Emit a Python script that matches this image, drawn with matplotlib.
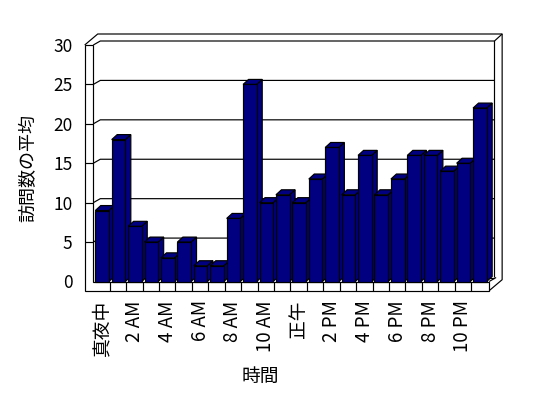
import matplotlib
matplotlib.use("Agg")
import matplotlib.pyplot as plt
from matplotlib.patches import Polygon

plt.rcParams['font.family'] = ['Noto Sans CJK JP', 'DejaVu Sans']

# ---- data ----
hours = ['真夜中', '1 AM', '2 AM', '3 AM', '4 AM', '5 AM', '6 AM', '7 AM', '8 AM', '9 AM',
         '10 AM', '11 AM', '正午', '1 PM', '2 PM', '3 PM', '4 PM', '5 PM', '6 PM', '7 PM',
         '8 PM', '9 PM', '10 PM', '11 PM']
visits = [9, 18, 7, 5, 3, 5, 2, 2, 8, 25, 10, 11, 10, 13, 17, 11, 16, 11, 13, 16, 16, 14, 15, 22]
yticks = [0, 5, 10, 15, 20, 25, 30]
xlabel = '時間'
ylabel = '訪問数の平均'

W, H = 548, 398
fig = plt.figure(figsize=(W / 100, H / 100), dpi=100)
ax_l, ax_r, ax_t, ax_b = 93.3, 487.5, 45.0, 281.5
ax = fig.add_axes([ax_l / W, (H - ax_b) / H, (ax_r - ax_l) / W, (ax_b - ax_t) / H])
n = len(hours)
ymax = 30
ax.set_xlim(0, n)
ax.set_ylim(0, ymax)
ax.set_facecolor('none')
for s in ax.spines.values():
    s.set_visible(False)

sx = n / (ax_r - ax_l)        # data units per pixel (x)
sy = ymax / (ax_b - ax_t)     # data units per pixel (y)


def off(p, d):
    return (p[0] + d[0], p[1] + d[1])


B = (7 * sx, 4 * sy)      # front plane -> back wall plane
O = (13 * sx, 11 * sy)    # front plane -> outer back of walls
D = (5.5 * sx, 5 * sy)    # bar depth
t = 8.6 * sx              # left wall thickness
f = 9.2 * sy              # floor thickness
xr = n + 0.1              # right end of floor

lw = 0.85
K = 'black'


def line(pts, z=2):
    xs = [p[0] for p in pts]
    ys = [p[1] for p in pts]
    ax.plot(xs, ys, color=K, lw=lw, clip_on=False, zorder=z, solid_capstyle='butt')


def poly(pts, fc, z):
    ax.add_patch(Polygon(pts, closed=True, facecolor=fc, edgecolor=K, lw=lw,
                         clip_on=False, zorder=z, joinstyle='miter'))


# gridlines on back wall and left wall inner face
for v in yticks[1:-1]:
    line([(0, v), off((0, v), B), off((n, v), B)], z=1)
line([off((0, 0), B), off((n, 0), B)], z=1)
# back wall outline
line([(0, ymax), off((0, ymax), B), off((n, ymax), B), off((n, 0), B)], z=1)
line([off((n, ymax), B), off((xr, ymax), O)], z=1)
# outer outline
line([(-t, ymax), off((-t, ymax), O), off((xr, ymax), O), off((xr, -f), O), (xr, -f)], z=1)
line([(xr, 0), off((xr, 0), B)], z=1)
# front face of left wall + floor (L shape)
poly([(-t, ymax), (0, ymax), (0, 0), (xr, 0), (xr, -f), (-t, -f)], 'white', 3)
# ticks on wall front face
for v in yticks[1:-1]:
    line([(-t, v), (0, v)], z=4)
# category ticks on floor front face
for i in range(1, n):
    line([(i, 0), (i, -f)], z=4)

# bars
a, b = 0.12, 0.95
navy = '#000080'
for i, v in enumerate(visits):
    x0, x1 = i + a, i + b
    z = 10 + i * 0.01
    poly([(x1, 0), (x1, v), off((x1, v), D), off((x1, 0), D)], navy, z)
    poly([(x0, v), (x1, v), off((x1, v), D), off((x0, v), D)], navy, z)
    poly([(x0, 0), (x1, 0), (x1, v), (x0, v)], navy, z)

# ticks & labels
ax.set_yticks(yticks)
ax.set_yticklabels([str(v) for v in yticks], fontsize=12.5)
ax.set_xticks([i + 0.5 for i in range(0, n, 2)])
ax.set_xticklabels(hours[::2], rotation=90, fontsize=13.5, va='top', ha='center')
ax.tick_params(axis='y', length=0, pad=15.0)
ax.tick_params(axis='x', length=0, pad=13.5)

ax.set_ylabel(ylabel, fontsize=13)
ax.yaxis.set_label_coords((37.0 - ax_l) / (ax_r - ax_l), (ax_b - 168) / (ax_b - ax_t))
ax.set_xlabel(xlabel, fontsize=13.5)
ax.xaxis.set_label_coords((260 - ax_l) / (ax_r - ax_l), (ax_b - 366) / (ax_b - ax_t))

fig.savefig('out.png', dpi=100, facecolor='white')
